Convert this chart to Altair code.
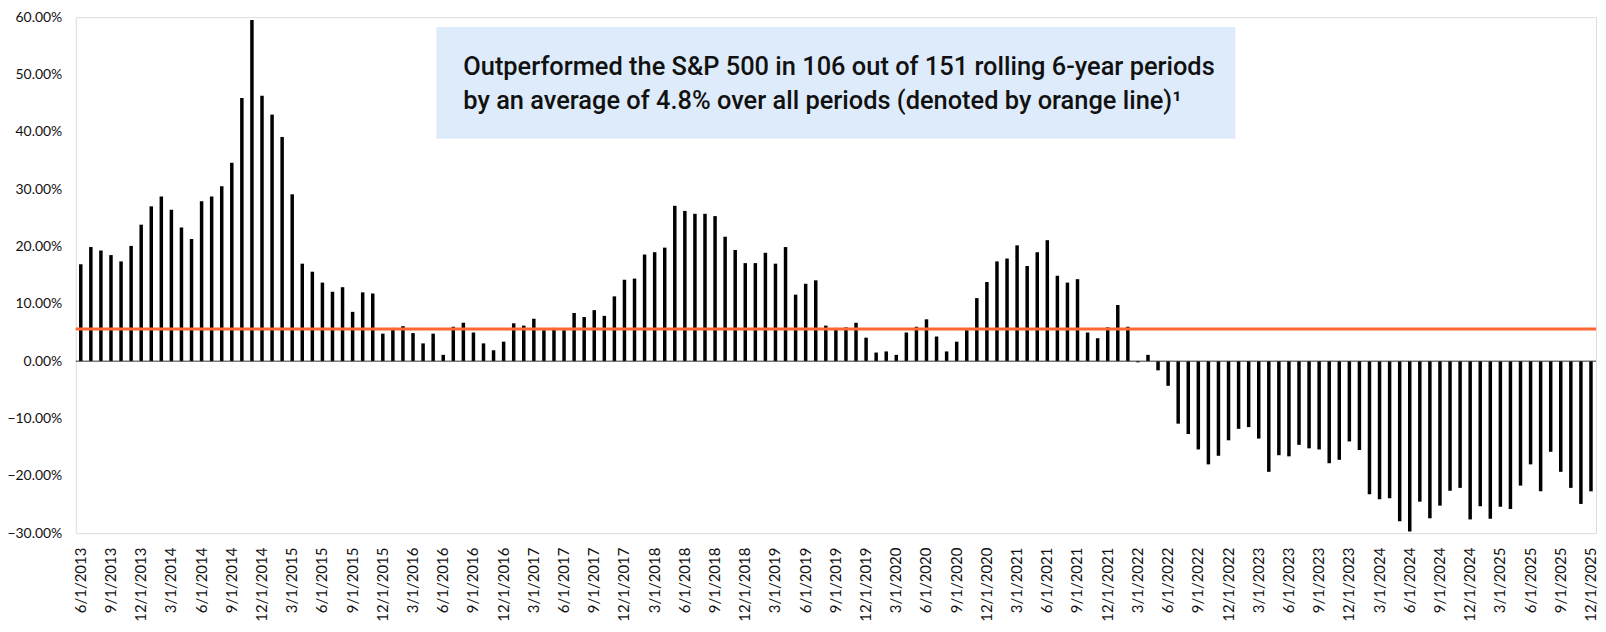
import altair as alt
import pandas as pd

# Rolling 6-year excess return vs S&P 500 (%), monthly from 6/1/2013 to 12/1/2025
values = [
    16.9, 19.9, 19.3, 18.5, 17.4, 20.1, 23.8, 27.0, 28.7, 26.4,
    23.3, 21.3, 27.9, 28.7, 30.5, 34.6, 45.9, 59.5, 46.3, 43.0,
    39.1, 29.1, 17.0, 15.6, 13.7, 12.1, 12.9, 8.6, 12.0, 11.8,
    4.8, 5.8, 6.1, 4.9, 3.1, 4.8, 1.1, 6.0, 6.7, 5.0,
    3.1, 1.9, 3.4, 6.6, 6.2, 7.4, 5.4, 5.8, 5.4, 8.4,
    7.7, 8.9, 7.9, 11.3, 14.2, 14.4, 18.6, 19.0, 19.8, 27.1,
    26.2, 25.7, 25.7, 25.3, 21.7, 19.4, 17.1, 17.1, 18.9, 17.0,
    19.9, 11.6, 13.5, 14.1, 6.2, 5.8, 5.9, 6.7, 4.1, 1.5,
    1.7, 1.1, 5.0, 6.0, 7.3, 4.3, 1.7, 3.4, 5.4, 11.0,
    13.8, 17.4, 17.9, 20.2, 16.6, 19.0, 21.1, 14.9, 13.7, 14.3,
    5.0, 4.0, 5.9, 9.8, 6.0, -0.2, 1.1, -1.6, -4.3, -10.9,
    -12.7, -15.4, -18.0, -16.5, -13.8, -11.8, -11.5, -13.5, -19.3, -16.4,
    -16.6, -14.6, -15.2, -15.4, -17.8, -17.2, -14.0, -15.5, -23.2, -24.1,
    -23.9, -27.9, -29.7, -24.5, -27.4, -25.2, -22.6, -22.1, -27.6, -25.3,
    -27.5, -25.4, -25.8, -21.7, -18.0, -22.7, -15.8, -19.3, -22.1, -24.9,
    -22.7,
]

month_labels = []
yr, mo = 2013, 6
for _ in range(len(values)):
    month_labels.append(f"{mo}/1/{yr}")
    mo += 1
    if mo > 12:
        mo = 1
        yr += 1

tick_labels = month_labels[::3]
y_ticks = [-30, -20, -10, 0, 10, 20, 30, 40, 50, 60]
avg_line = [5.6]
zero_line = [0]
note_lines = [
    "Outperformed the S&P 500 in 106 out of 151 rolling 6-year periods",
    "by an average of 4.8% over all periods (denoted by orange line)\u00b9",
]

df = pd.DataFrame({"date": month_labels, "value": values})
df_avg = pd.DataFrame({"avg": avg_line})
df_zero = pd.DataFrame({"z": zero_line})
df_one = pd.DataFrame({"a": [0]})

y_scale = alt.Scale(domain=[-30, 60], nice=False, zero=False)

bars = alt.Chart(df).mark_bar(size=3.5, color="#000000").encode(
    x=alt.X(
        "date:N",
        sort=month_labels,
        scale=alt.Scale(paddingInner=0, paddingOuter=0),
        axis=alt.Axis(
            values=tick_labels,
            labelAngle=-90,
            labelFont="Lato",
            labelFontSize=15,
            labelColor="#111111",
            labelPadding=14,
            labelOverlap=False,
            ticks=False,
            domain=False,
            title=None,
        ),
    ),
    y=alt.Y(
        "value:Q",
        scale=y_scale,
        axis=alt.Axis(
            values=y_ticks,
            labelExpr="format(datum.value, '.2f') + '%'",
            labelFont="Lato",
            labelFontSize=14,
            labelColor="#111111",
            labelPadding=14,
            grid=False,
            ticks=False,
            domain=False,
            title=None,
        ),
    ),
)

zero_rule = alt.Chart(df_zero).mark_rule(color="#333333", strokeWidth=1).encode(
    y=alt.Y("z:Q", scale=y_scale)
)

avg_rule = alt.Chart(df_avg).mark_rule(color="#FF6633", strokeWidth=3).encode(
    y=alt.Y("avg:Q", scale=y_scale)
)

box = alt.Chart(df_one).mark_rect(color="#DDEBFA").encode(
    x=alt.value(362), x2=alt.value(1164), y=alt.value(10), y2=alt.value(122)
)

text1 = alt.Chart(df_one).mark_text(
    text=note_lines[0], align="left", baseline="alphabetic",
    font="Roboto", fontSize=25.5, fontWeight=500, color="#111111",
).encode(x=alt.value(389), y=alt.value(58))

text2 = alt.Chart(df_one).mark_text(
    text=note_lines[1], align="left", baseline="alphabetic",
    font="Roboto", fontSize=25.5, fontWeight=500, color="#111111",
).encode(x=alt.value(389), y=alt.value(92))

chart = alt.layer(box, bars, zero_rule, avg_rule, text1, text2).properties(
    width=1526,
    height=518,
    autosize=alt.AutoSizeParams(type="none"),
    padding={"left": 68, "top": 8, "right": 2, "bottom": 90},
).configure_view(stroke=None).configure(background="white")

chart.save("out.html", embed_options={"renderer": "svg", "actions": False})
